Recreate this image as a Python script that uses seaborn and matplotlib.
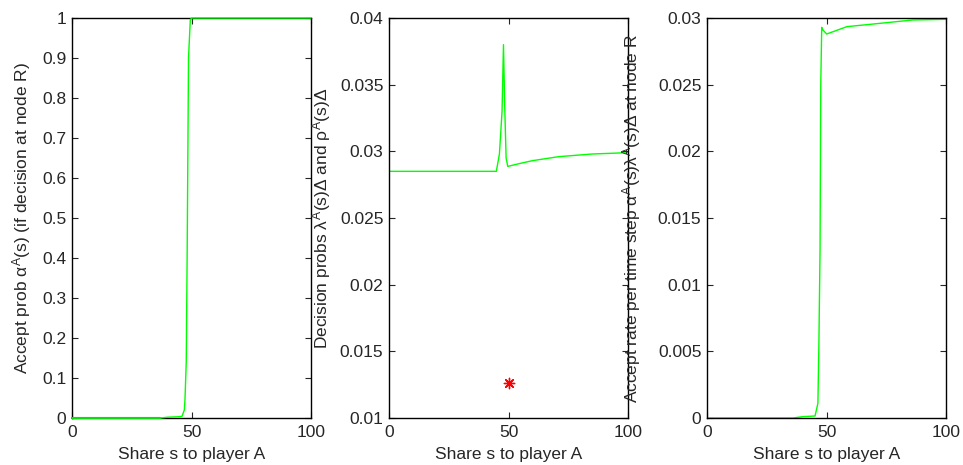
import numpy as np
import pandas as pd
import matplotlib
matplotlib.use("Agg")
import matplotlib.pyplot as plt
import seaborn as sns

# Share s to player A (x values) and the three curves
s_alpha = [0, 37, 40, 44, 46, 47, 47.3, 47.8, 48.2, 48.75, 49.5, 50, 60, 80, 100]
alpha = [0, 0, 0.002, 0.003, 0.004, 0.02, 0.05, 0.14, 0.42, 0.9, 0.995, 1, 1, 1, 1]
s_alpha_low = [0, 37]
alpha_low = [0, 0]

s_lam = [0, 20, 44.9, 46.2, 47.3, 47.9, 48.4, 49.0, 49.7, 55, 60, 71, 85, 100]
lam = [0.0285, 0.0285, 0.0285, 0.0298, 0.0330, 0.0380, 0.0335, 0.0295, 0.02887,
       0.0291, 0.0293, 0.0296, 0.0298, 0.0299]
rho_s = [50]
rho = [0.0126]

s_rate = [0, 36, 40, 45.2, 46.4, 46.8, 47.3, 47.6, 48.0, 48.5, 50.1, 58.5, 72.4, 86, 100]
rate = [0, 0, 0.0001, 0.00015, 0.0011, 0.0053, 0.0126, 0.025, 0.0293, 0.0291, 0.0288,
        0.02935, 0.0296, 0.02985, 0.0299]

sns.set_style("white")
plt.rcParams['font.family'] = ['Liberation Sans', 'DejaVu Sans']
plt.rcParams['mathtext.fontset'] = 'custom'
plt.rcParams['mathtext.rm'] = 'Liberation Sans'
plt.rcParams['mathtext.it'] = 'Liberation Sans'

fig = plt.figure(figsize=(9.63, 4.65), dpi=100)
lefts = [72 / 963, 389 / 963, 707 / 963]
w = 239 / 963
b = 1 - 418 / 465
h = 400 / 465
axes = [fig.add_axes([l, b, w, h]) for l in lefts]

green = '#00ff00'
fs = 12.5

# panel 1
ax = axes[0]
sns.lineplot(x=s_alpha, y=alpha, ax=ax, color=green, lw=1, clip_on=False, zorder=5)
sns.lineplot(x=s_alpha_low, y=alpha_low, ax=ax, color='#2a8a2a', lw=1.5, clip_on=False, zorder=4)
ax.set_ylim(0, 1)
ax.set_yticks(np.arange(0, 1.01, 0.1))
ax.set_yticklabels(['0', '0.1', '0.2', '0.3', '0.4', '0.5', '0.6', '0.7', '0.8', '0.9', '1'])
ax.set_ylabel(r'Accept prob $\alpha^A$(s) (if decision at node R)', fontsize=fs)
ax.yaxis.set_label_coords(-0.165, 0.5)

# panel 2
ax = axes[1]
sns.lineplot(x=s_lam, y=lam, ax=ax, color=green, lw=1)
sns.scatterplot(x=rho_s, y=rho, ax=ax, color='red', marker=(8, 2, 0), s=55, linewidth=1)
ax.set_ylim(0.01, 0.04)
ax.set_yticks(np.arange(0.01, 0.0401, 0.005))
ax.set_yticklabels(['0.01', '0.015', '0.02', '0.025', '0.03', '0.035', '0.04'])
ax.set_ylabel(r'Decision probs $\lambda^A$(s)$\Delta$ and $\rho^A$(s)$\Delta$', fontsize=fs)
ax.yaxis.set_label_coords(-0.236, 0.5)

# panel 3
ax = axes[2]
sns.lineplot(x=s_rate, y=rate, ax=ax, color=green, lw=1)
ax.set_ylim(0, 0.03)
ax.set_yticks(np.arange(0, 0.0301, 0.005))
ax.set_yticklabels(['0', '0.005', '0.01', '0.015', '0.02', '0.025', '0.03'])
ax.set_ylabel(r'Accept rate per time step $\alpha^A$(s)$\lambda^A$(s)$\Delta$ at node R',
              fontsize=fs)
ax.yaxis.set_label_coords(-0.266, 0.5)

for ax in axes:
    ax.set_xlim(0, 100)
    ax.set_xticks([0, 50, 100])
    ax.set_xlabel('Share s to player A', fontsize=fs)
    ax.xaxis.set_label_coords(0.5, -0.0725)
    ax.tick_params(direction='in', length=4, width=0.8, labelsize=fs,
                   top=True, right=True, bottom=True, left=True)
    ax.tick_params(axis='x', pad=5)
    ax.tick_params(axis='y', pad=4)
    for sp in ax.spines.values():
        sp.set_visible(True)
        sp.set_color('black')
        sp.set_linewidth(1)

fig.savefig('out.png', dpi=100)
